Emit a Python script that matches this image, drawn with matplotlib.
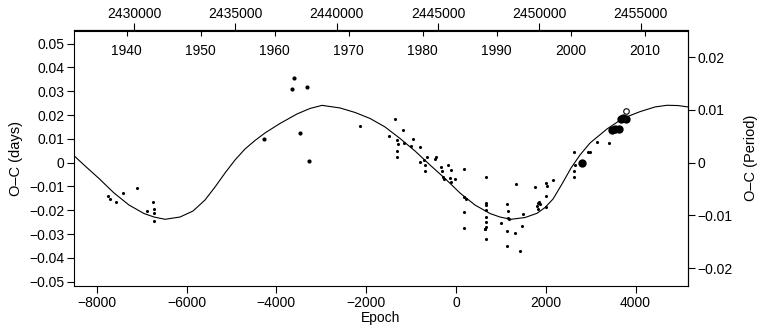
import matplotlib
matplotlib.use('Agg')
import matplotlib.pyplot as plt
from matplotlib.ticker import FixedLocator, FuncFormatter

# ---------------- data ----------------
# fitted curve: epoch, O-C (days)
fit_epoch = [-8506, -8283, -7949, -7615, -7281, -6947, -6724, -6479, -6145, -5855,
             -5588, -5365, -5142, -4920, -4697, -4474, -4252, -3918, -3539, -3249,
             -2982, -2581, -2247, -1913, -1579, -1245, -911, -577, -243, 91,
             425, 759, 982, 1227, 1539, 1806, 1985, 2163, 2363, 2564,
             2764, 2987, 3365, 3722, 4100, 4434, 4702, 4947, 5170]
fit_oc = [0.00293, -0.00098, -0.00665, -0.01274, -0.01779, -0.02136, -0.02283, -0.02379, -0.02283, -0.02031,
          -0.01568, -0.01022, -0.00434, 0.00112, 0.00574, 0.00932, 0.01247, 0.01646, 0.02045, 0.02276,
          0.02406, 0.02297, 0.02108, 0.01856, 0.01499, 0.01016, 0.00490, -0.00098, -0.00665, -0.01274,
          -0.01779, -0.02136, -0.02283, -0.02379, -0.02304, -0.02127, -0.01884, -0.01527, -0.00896, -0.00224,
          0.00322, 0.00826, 0.01415, 0.01864, 0.02142, 0.02339, 0.02410, 0.02398, 0.02339]

# small dots (visual / photographic timings)
small_epoch = [-7759, -7704, -7570, -7421, -7096, -6886, -6753, -6724, -6728, -6719,
               -2129,
               -1367, -1485, -1185, -1305, -1301, -1160, -1305, -1305, -966, -1011,
               -800, -811, -704, -639, -688, -681, -470, -443, -332, -303,
               -171, -116, -298, -272, -127, -109, -16, 176, 185, 225,
               185, 176,
               670, 670, 670, 670, 670, 670, 670, 655, 641, 670,
               1138, 1160, 1154, 1176, 1005, 1145, 1327, 1345, 1495, 1468,
               1145, 1434,
               1762, 2000, 2022, 2169, 1800, 1822, 1858, 1873, 1818, 2000,
               2002, 2637, 2646, 2637, 2635, 2949, 2987, 3143, 3410]
small_oc = [-0.01413, -0.01539, -0.01640, -0.01262, -0.01052, -0.02010, -0.01632, -0.01938, -0.02127, -0.02463,
            0.01528,
            0.01826, 0.01121, 0.01385, 0.00940, 0.00772, 0.00805, 0.00469, 0.00238, 0.00973, 0.00713,
            0.00671, 0.00037, 0.00091, 0.00247, -0.00119, -0.00350, 0.00167, 0.00238, -0.00182, -0.00363,
            -0.00085, -0.00300, -0.00602, -0.00699, -0.00632, -0.00804, -0.00678, -0.00253, -0.01463, -0.01518,
            -0.02052, -0.02753,
            -0.00590, -0.01682, -0.01779, -0.01989, -0.02270, -0.02480, -0.02690, -0.02800, -0.02774, -0.03186,
            -0.01737, -0.02043, -0.02337, -0.02379, -0.02514, -0.02871, -0.02947, -0.00888, -0.02144, -0.02669,
            -0.03510, -0.03690,
            -0.01031, -0.00867, -0.00989, -0.00749, -0.01800, -0.01707, -0.01653, -0.01749, -0.01926, -0.01392,
            -0.01850, 0.00448, -0.00098, -0.00337, -0.00615, 0.00440, 0.00440, 0.00877, 0.00839]

# medium dots (1960s)
medium_epoch = [-4267, -3606, -3644, -3316, -3465, -3265]
medium_oc = [0.01007, 0.03558, 0.03108, 0.03179, 0.01247, 0.00070]

# large dots (CCD timings)
big_epoch = [2800, 3472, 3550, 3622, 3677, 3728, 3784]
big_oc = [-0.00026, 0.01373, 0.01402, 0.01415, 0.01835, 0.01856, 0.01835]

# open circle
open_epoch = [3789]
open_oc = [0.02171]

# axis ticks
epoch_ticks = [-8000, -6000, -4000, -2000, 0, 2000, 4000]
days_ticks = [-0.05, -0.04, -0.03, -0.02, -0.01, 0, 0.01, 0.02, 0.03, 0.04, 0.05]
period_ticks = [-0.02, -0.01, 0, 0.01, 0.02]
jd_ticks = [2430000, 2435000, 2440000, 2445000, 2450000, 2455000]
year_ticks = [1940, 1950, 1960, 1970, 1980, 1990, 2000, 2010]

# ephemeris used for the secondary axes
T0 = 2445881.0
P = 2.2153

# ---------------- plot ----------------
plt.rcParams['font.family'] = ['Liberation Sans', 'DejaVu Sans']
plt.rcParams['font.size'] = 10
plt.rcParams['axes.unicode_minus'] = True


def fmt(v, pos=None):
    s = '0' if abs(v) < 1e-12 else f'{v:g}'
    return s.replace('-', '\u2212')


fig = plt.figure(figsize=(7.63, 3.31), dpi=100)
ax = fig.add_axes([74 / 763, 1 - 286 / 331, (688 - 74) / 763, (286 - 30.5) / 331])

ax.plot(fit_epoch, fit_oc, color='black', lw=0.8, zorder=2)
ax.scatter(small_epoch, small_oc, s=5, color='black', linewidths=0, zorder=3)
ax.scatter(medium_epoch, medium_oc, s=9, color='black', linewidths=0, zorder=3)
ax.scatter(big_epoch, big_oc, s=36, color='black', linewidths=0, zorder=3)
ax.scatter(open_epoch, open_oc, s=16, facecolors='white', edgecolors='black', linewidths=0.8, zorder=4)

ax.set_xlim(-8506, 5169)
ax.set_ylim(-0.0518, 0.0555)

ax.xaxis.set_major_locator(FixedLocator(epoch_ticks))
ax.xaxis.set_major_formatter(FuncFormatter(fmt))
ax.yaxis.set_major_locator(FixedLocator(days_ticks))
ax.yaxis.set_major_formatter(FuncFormatter(fmt))
ax.tick_params(direction='out', length=5, width=0.8, top=False, right=False, labelsize=10, pad=2)

for sp in ax.spines.values():
    sp.set_linewidth(0.8)

ax.set_xlabel('Epoch', fontsize=10, labelpad=1)
ax.set_ylabel('O\u2013C (days)', fontsize=10.5, labelpad=4)

# right axis: O-C in units of period
secy = ax.secondary_yaxis('right', functions=(lambda d: d / P, lambda p: p * P))
secy.yaxis.set_major_locator(FixedLocator(period_ticks))
secy.yaxis.set_major_formatter(FuncFormatter(fmt))
secy.tick_params(direction='out', length=5, width=0.8, labelsize=10, pad=2)
secy.spines['right'].set_linewidth(0.8)
secy.set_ylabel('O\u2013C (Period)', fontsize=10.5, labelpad=8)

# top axis: Julian date
secjd = ax.secondary_xaxis('top', functions=(lambda e: T0 + P * e, lambda j: (j - T0) / P))
secjd.xaxis.set_major_locator(FixedLocator(jd_ticks))
secjd.xaxis.set_major_formatter(FuncFormatter(lambda v, p: f'{v:.0f}'))
secjd.tick_params(direction='out', length=5, width=0.8, labelsize=10, pad=2)
secjd.spines['top'].set_linewidth(0.8)


# top axis inside: calendar year
def e2y(e):
    return 2000 + (T0 + P * e - 2451544.5) / 365.25


def y2e(y):
    return ((y - 2000) * 365.25 + 2451544.5 - T0) / P


secyr = ax.secondary_xaxis('top', functions=(e2y, y2e))
secyr.xaxis.set_major_locator(FixedLocator(year_ticks))
secyr.xaxis.set_major_formatter(FuncFormatter(lambda v, p: f'{v:.0f}'))
secyr.tick_params(direction='in', length=4, width=0.8, labelsize=10, pad=-20)
secyr.spines['top'].set_linewidth(0.8)

fig.savefig('out.png', dpi=100)
